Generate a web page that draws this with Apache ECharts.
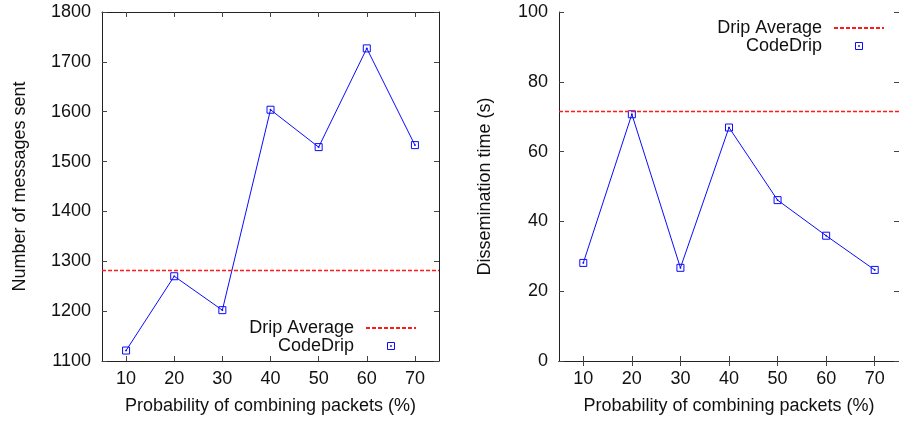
<!DOCTYPE html>
<html>
<head>
<meta charset="utf-8">
<script src="https://cdn.jsdelivr.net/npm/echarts@6/dist/echarts.min.js"></script>
<style>
html,body{margin:0;padding:0;background:#fff;}
#chart{width:899px;height:422px;}
</style>
</head>
<body>
<div id="chart"></div>
<script>
// ---- data ----
const categories = ['10', '20', '30', '40', '50', '60', '70'];
const messagesCodeDrip = [1121, 1270, 1202, 1604, 1529, 1727, 1533];
const messagesDripAverage = 1282;
const timeCodeDrip = [28.1, 70.7, 26.7, 66.9, 46.1, 35.9, 26.1];
const timeDripAverage = 71.5;
const legendNames = ['Drip Average', 'CodeDrip'];
const xTitle = 'Probability of combining packets (%)';
const yTitleLeft = 'Number of messages sent';
const yTitleRight = 'Dissemination time (s)';

// ---- styles ----
const FONT = "'Liberation Sans', Arial, Helvetica, sans-serif";
const TXT = '#111';
const AXIS = '#222';
const BLUE = '#0a0aff';
const RED = '#ff1a1a';
const DASH = [4, 2];
const MARK = 'path://M0,0H8V8H0Z M3.5,3.5H4.5V4.5H3.5Z';

const grids = [
  {left: 102, top: 12, width: 337, height: 349},
  {left: 559, top: 12, width: 347, height: 349}
];

function xAxes(gi) {
  return [
    {
      type: 'category', gridIndex: gi, data: categories, position: 'bottom',
      boundaryGap: true,
      axisLine: {show: true, lineStyle: {color: AXIS, width: 1}},
      axisTick: {show: true, inside: true, alignWithLabel: true, length: 5, lineStyle: {color: '#444'}},
      axisLabel: {show: true, color: TXT, fontSize: 18, fontFamily: FONT, margin: 9},
      splitLine: {show: false},
      name: xTitle, nameLocation: 'middle', nameGap: 36,
      nameTextStyle: {color: TXT, fontSize: 18, fontFamily: FONT}
    },
    {
      type: 'category', gridIndex: gi, data: categories, position: 'top',
      boundaryGap: true,
      axisLine: {show: true, lineStyle: {color: AXIS, width: 1}},
      axisTick: {show: true, inside: true, alignWithLabel: true, length: 5, lineStyle: {color: '#444'}},
      axisLabel: {show: false},
      splitLine: {show: false}
    }
  ];
}

function yAxes(gi, min, max, interval, title, gap) {
  return [
    {
      type: 'value', gridIndex: gi, min: min, max: max, interval: interval, position: 'left',
      axisLine: {show: true, lineStyle: {color: AXIS, width: 1}},
      axisTick: {show: true, inside: true, length: 5, lineStyle: {color: '#444'}},
      axisLabel: {show: true, color: TXT, fontSize: 18, fontFamily: FONT, margin: 11,
        formatter: function (v) { return String(v); }},
      splitLine: {show: false},
      name: title, nameLocation: 'middle', nameGap: gap,
      nameTextStyle: {color: TXT, fontSize: 18, fontFamily: FONT}
    },
    {
      type: 'value', gridIndex: gi, min: min, max: max, interval: interval, position: 'right',
      axisLine: {show: true, lineStyle: {color: AXIS, width: 1}},
      axisTick: {show: true, inside: true, length: 5, lineStyle: {color: '#444'}},
      axisLabel: {show: false},
      splitLine: {show: false}
    }
  ];
}

function seriesFor(gi, values, avg) {
  return [
    {
      type: 'line', name: legendNames[0], xAxisIndex: gi * 2, yAxisIndex: gi * 2,
      data: categories.map(() => null), symbol: 'none', silent: true,
      lineStyle: {color: RED, width: 1, type: DASH},
      itemStyle: {color: 'rgba(0,0,0,0)', borderWidth: 0},
      markLine: {
        symbol: 'none', silent: true, animation: false,
        label: {show: false},
        emphasis: {disabled: true},
        lineStyle: {color: RED, width: 1.4, type: DASH},
        data: [{yAxis: avg}]
      }
    },
    {
      type: 'line', name: 'line' + gi, xAxisIndex: gi * 2, yAxisIndex: gi * 2,
      data: values, symbol: 'none', silent: true,
      lineStyle: {color: BLUE, width: 1}
    },
    {
      type: 'scatter', name: legendNames[1], xAxisIndex: gi * 2, yAxisIndex: gi * 2,
      data: values, symbol: MARK, symbolSize: 7, silent: true,
      itemStyle: {color: 'rgba(0,0,0,0)', borderColor: BLUE, borderWidth: 1, opacity: 1}
    }
  ];
}

function legendFor(right, top) {
  return {
    orient: 'vertical', align: 'right', right: right, top: top, padding: 0,
    itemWidth: 50, itemHeight: 7, itemGap: 0, selectedMode: false,
    textStyle: {color: TXT, fontSize: 18, fontFamily: FONT, lineHeight: 18, padding: [0, 7, 0, 0]},
    data: [
      {name: legendNames[0]},
      {name: legendNames[1], icon: MARK,
        itemStyle: {color: 'rgba(0,0,0,0)', borderColor: BLUE, borderWidth: 1}}
    ]
  };
}

const chart = echarts.init(document.getElementById('chart'), null, {renderer: 'canvas'});
chart.setOption({
  animation: false,
  backgroundColor: '#fff',
  grid: grids,
  xAxis: xAxes(0).concat(xAxes(1)),
  yAxis: yAxes(0, 1100, 1800, 100, yTitleLeft, 73).concat(yAxes(1, 0, 100, 20, yTitleRight, 65)),
  legend: [legendFor(482, 319), legendFor(14, 19)],
  series: seriesFor(0, messagesCodeDrip, messagesDripAverage)
    .concat(seriesFor(1, timeCodeDrip, timeDripAverage))
});
</script>
</body>
</html>
